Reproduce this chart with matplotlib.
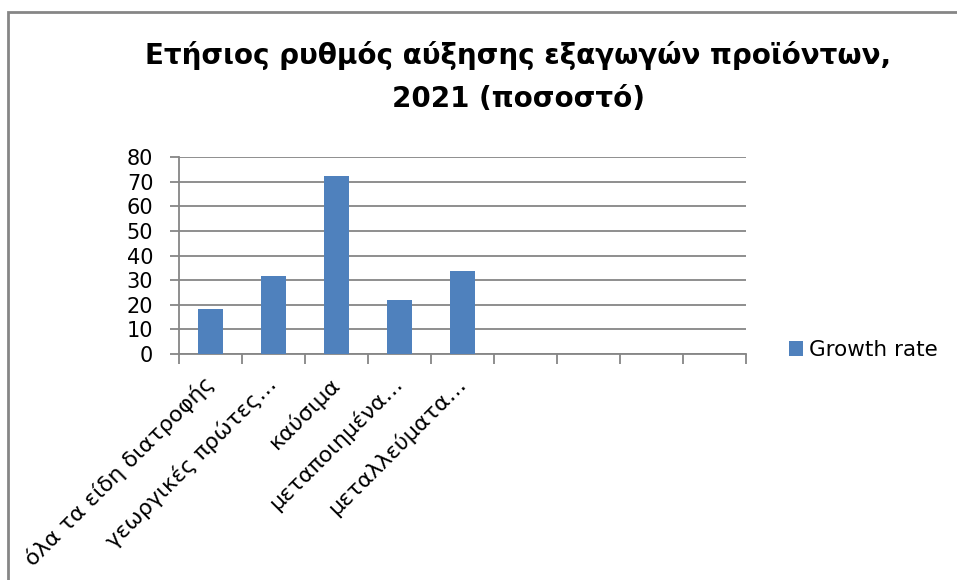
import matplotlib
matplotlib.use("Agg")
import matplotlib.pyplot as plt
from matplotlib.patches import Rectangle
import numpy as np

title = "Ετήσιος ρυθμός αύξησης εξαγωγών προϊόντων,\n2021 (ποσοστό)"
categories = ["όλα τα είδη διατροφής", "γεωργικές πρώτες…", "καύσιμα",
              "μεταποιημένα…", "μεταλλεύματα…", "", "", "", ""]
values = [18.3, 31.7, 72.1, 21.8, 33.7]
series_name = "Growth rate"
yticks = [0, 10, 20, 30, 40, 50, 60, 70, 80]

FONT = ["DejaVu Sans"]
plt.rcParams["font.family"] = FONT

W, H = 957, 580
fig = plt.figure(figsize=(W / 100, H / 100), dpi=100)
fig.patch.set_facecolor("white")

# outer chart frame
fig.patches.append(Rectangle((8 / W, -0.02), 1.1, 1 - 12 / H + 0.02,
                             transform=fig.transFigure, fill=False,
                             edgecolor="#868686", linewidth=2))

ax = fig.add_axes([179 / W, 1 - 354 / H, (746 - 179) / W, (354 - 157) / H])
n = len(categories)
x = np.arange(n)
ax.bar(x[:len(values)], values, width=0.4, color="#4F81BD", zorder=3,
       label=series_name)

ax.set_xlim(-0.5, n - 0.5)
ax.set_ylim(0, 80)
ax.set_yticks(yticks)
ax.set_yticklabels([str(v) for v in yticks], fontsize=15)
ax.yaxis.grid(True, color="#868686", linewidth=1.3, zorder=0)
ax.set_axisbelow(True)

ax.set_xticks(np.arange(n + 1) - 0.5)
ax.set_xticklabels([])
ax.set_xticks(x, minor=True)
ax.set_xticklabels(categories, minor=True, rotation=45, ha="right",
                   va="center", rotation_mode="anchor", fontsize=16)
ax.tick_params(axis="x", which="minor", length=0, pad=19)
ax.tick_params(axis="x", which="major", length=7, width=1.3,
               color="#868686", direction="out")
ax.tick_params(axis="y", length=6.5, width=1.3, color="#868686", pad=12)

for s in ["top", "right"]:
    ax.spines[s].set_visible(False)
for s in ["left", "bottom"]:
    ax.spines[s].set_color("#868686")
    ax.spines[s].set_linewidth(1.3)

fig.text(518 / W, 1 - 77 / H, title, ha="center", va="center",
         fontsize=20, fontweight="bold", linespacing=1.65)

leg = ax.legend(loc="center left", bbox_to_anchor=(1.06, 0.02), frameon=False,
                fontsize=15.5, handlelength=0.65, handleheight=0.65,
                handletextpad=0.3, borderaxespad=0)

fig.savefig("out.png", dpi=100)
